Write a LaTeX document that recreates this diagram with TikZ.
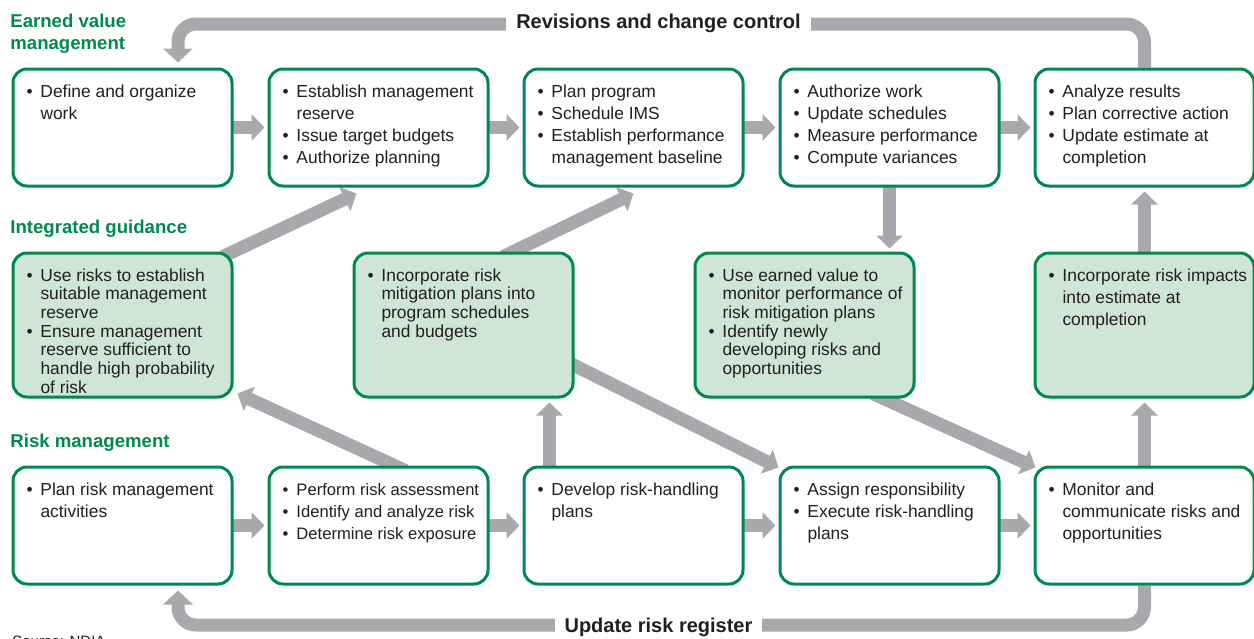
\documentclass[tikz,border=0pt]{standalone}
\usepackage{fontspec}
\setmainfont{Liberation Sans}
\usepackage{xcolor}
\usepackage{tikz}
\usetikzlibrary{arrows.meta}
\usetikzlibrary{calc}
\usetikzlibrary{backgrounds}

\definecolor{evgreen}{RGB}{0,137,79}
\definecolor{evfill}{RGB}{207,229,216}
\definecolor{evgray}{RGB}{167,169,172}
\definecolor{evtext}{RGB}{35,31,32}

\newcommand{\itm}[1]{\par\hangindent=13.75pt\hangafter=1\noindent\makebox[13.75pt][l]{\hspace{6.75pt}\textbullet}\strut#1\par}
\newcommand{\cell}[2]{\parbox[c][#1][t]{109.5pt}{\rightskip=-20pt plus 1fil\relax\vspace*{\dimexpr14pt-\ht\strutbox\relax}#2}}

\tikzset{
    stagebox/.style={draw=evgreen, line width=1.5pt, rounded corners=7pt, fill=white,
        inner sep=0pt, anchor=north west, text=evtext, font=\fontsize{8.7}{11}\selectfont},
    guidebox/.style={stagebox, fill=evfill},
    tight/.style={font=\fontsize{8.7}{9.35}\selectfont},
    rowlabel/.style={anchor=base west, inner sep=0pt, text=evgreen, font=\fontsize{9.3}{11}\selectfont\bfseries},
    looplabel/.style={anchor=base, fill=white, inner xsep=5pt, inner ysep=3pt, text=evtext,
        font=\fontsize{10}{12}\selectfont\bfseries},
    flow/.style={draw=evgray, line width=6.5pt, shorten <=-6pt, -{Triangle[length=6.5pt,width=13pt]}},
    loopflow/.style={draw=evgray, line width=6.5pt, rounded corners=9pt, shorten >=2.5pt,
        -{Triangle[length=7pt,width=14.5pt]}}
}

\begin{document}
\begin{tikzpicture}[x=0.5pt, y=-0.5pt]
        \useasboundingbox (0,0) rectangle (1254,638);

        \node[rowlabel, anchor=north west, align=left] (evmlbl) at (10,13.5) {Earned value\\management};
        \node[rowlabel] (iglbl) at (10,233.5) {Integrated guidance};
        \node[rowlabel] (rmlbl) at (10,447) {Risk management};

        \node[stagebox] (evm1) at (11.5,67.5) {\cell{58.5pt}{\itm{Define and organize\newline work}}};
        \node[stagebox] (evm2) at (267.5,67.5) {\cell{58.5pt}{\itm{Establish management\newline reserve}\itm{Issue target budgets}\itm{Authorize planning}}};
        \node[stagebox] (evm3) at (522.5,67.5) {\cell{58.5pt}{\itm{Plan program}\itm{Schedule IMS}\itm{Establish performance\newline management baseline}}};
        \node[stagebox] (evm4) at (778.5,67.5) {\cell{58.5pt}{\itm{Authorize work}\itm{Update schedules}\itm{Measure performance}\itm{Compute variances}}};
        \node[stagebox] (evm5) at (1033.5,67.5) {\cell{58.5pt}{\itm{Analyze results}\itm{Plan corrective action}\itm{Update estimate at\newline completion}}};

        \node[guidebox, tight] (ig1) at (11.5,251.5) {\cell{72pt}{\itm{Use risks to establish\newline suitable management\newline reserve}\itm{Ensure management\newline reserve sufficient to\newline handle high probability\newline of risk}}};
        \node[guidebox, tight] (ig2) at (352.5,251.5) {\cell{72pt}{\itm{Incorporate risk\newline mitigation plans into\newline program schedules\newline and budgets}}};
        \node[guidebox, tight] (ig3) at (693.5,251.5) {\cell{72pt}{\itm{Use earned value to\newline monitor performance of\newline risk mitigation plans}\itm{Identify newly\newline developing risks and\newline opportunities}}};
        \node[guidebox] (ig4) at (1033.5,251.5) {\cell{72pt}{\itm{Incorporate risk impacts\newline into estimate at\newline completion}}};

        \node[stagebox] (rm1) at (11.5,465.5) {\cell{58.5pt}{\itm{Plan risk management\newline activities}}};
        \node[stagebox, font=\fontsize{8.3}{11}\selectfont] (rm2) at (267.5,465.5) {\cell{58.5pt}{\itm{Perform risk assessment}\itm{Identify and analyze risk}\itm{Determine risk exposure}}};
        \node[stagebox] (rm3) at (522.5,465.5) {\cell{58.5pt}{\itm{Develop risk-handling\newline plans}}};
        \node[stagebox] (rm4) at (778.5,465.5) {\cell{58.5pt}{\itm{Assign responsibility}\itm{Execute risk-handling\newline plans}}};
        \node[stagebox] (rm5) at (1033.5,465.5) {\cell{58.5pt}{\itm{Monitor and\newline communicate risks and\newline opportunities}}};

        \begin{scope}[on background layer]
            \draw[flow, shorten >=1.5pt] (evm1.east) -- (evm2.west);
            \draw[flow, shorten >=1.5pt] (evm2.east) -- (evm3.west);
            \draw[flow, shorten >=1.5pt] (evm3.east) -- (evm4.west);
            \draw[flow, shorten >=1.5pt] (evm4.east) -- (evm5.west);
            \draw[flow, shorten >=1.5pt] (rm1.east) -- (rm2.west);
            \draw[flow, shorten >=1.5pt] (rm2.east) -- (rm3.west);
            \draw[flow, shorten >=1.5pt] (rm3.east) -- (rm4.west);
            \draw[flow, shorten >=1.5pt] (rm4.east) -- (rm5.west);

            \draw[flow] (ig1.north east) -- ($(evm2.south west)+(89,6)$);
            \draw[flow] ($(ig2.north)+(50,0)$) -- ($(evm3.south)+(0,6)$);
            \draw[flow, shorten >=1.5pt] (evm4.south) -- (evm4.south |- ig3.north);
            \draw[flow, shorten >=2pt] (ig4.north) -- (evm5.south);
            \draw[flow, shorten >=2pt] (rm5.north) -- (ig4.south);
            \coordinate (ig2in) at ($(ig2.south east)+(-25,0)$);
            \draw[flow, shorten >=2pt] (rm3.north -| ig2in) -- (ig2in);
            \draw[flow] ($(rm2.north)+(16,0)$) -- ($(ig1.south east)+(4,-5)$);
            \draw[flow] ($(ig2.south east)+(0,-33)$) -- ($(rm4.north west)+(0,2)$);
            \draw[flow] ($(ig3.south east)+(-32,0)$) -- ($(rm5.north west)+(2,2)$);

            \coordinate (revL) at (178,24);
            \coordinate (regL) at (178,625);
            \draw[loopflow] (evm5.north) |- (revL) -- (revL |- evm1.north);
            \draw[loopflow] (rm5.south) |- (regL) -- (regL |- rm1.south);
        \end{scope}

        \node[looplabel] (revlbl) at (658.5,28.5) {Revisions and change control};
        \node[looplabel] (reglbl) at (658.5,632) {Update risk register};
        \node[anchor=base west, inner sep=0pt, text=evtext, font=\fontsize{7.5}{9}\selectfont] (srclbl) at (12,646) {Source: NDIA};
\end{tikzpicture}
\end{document}
